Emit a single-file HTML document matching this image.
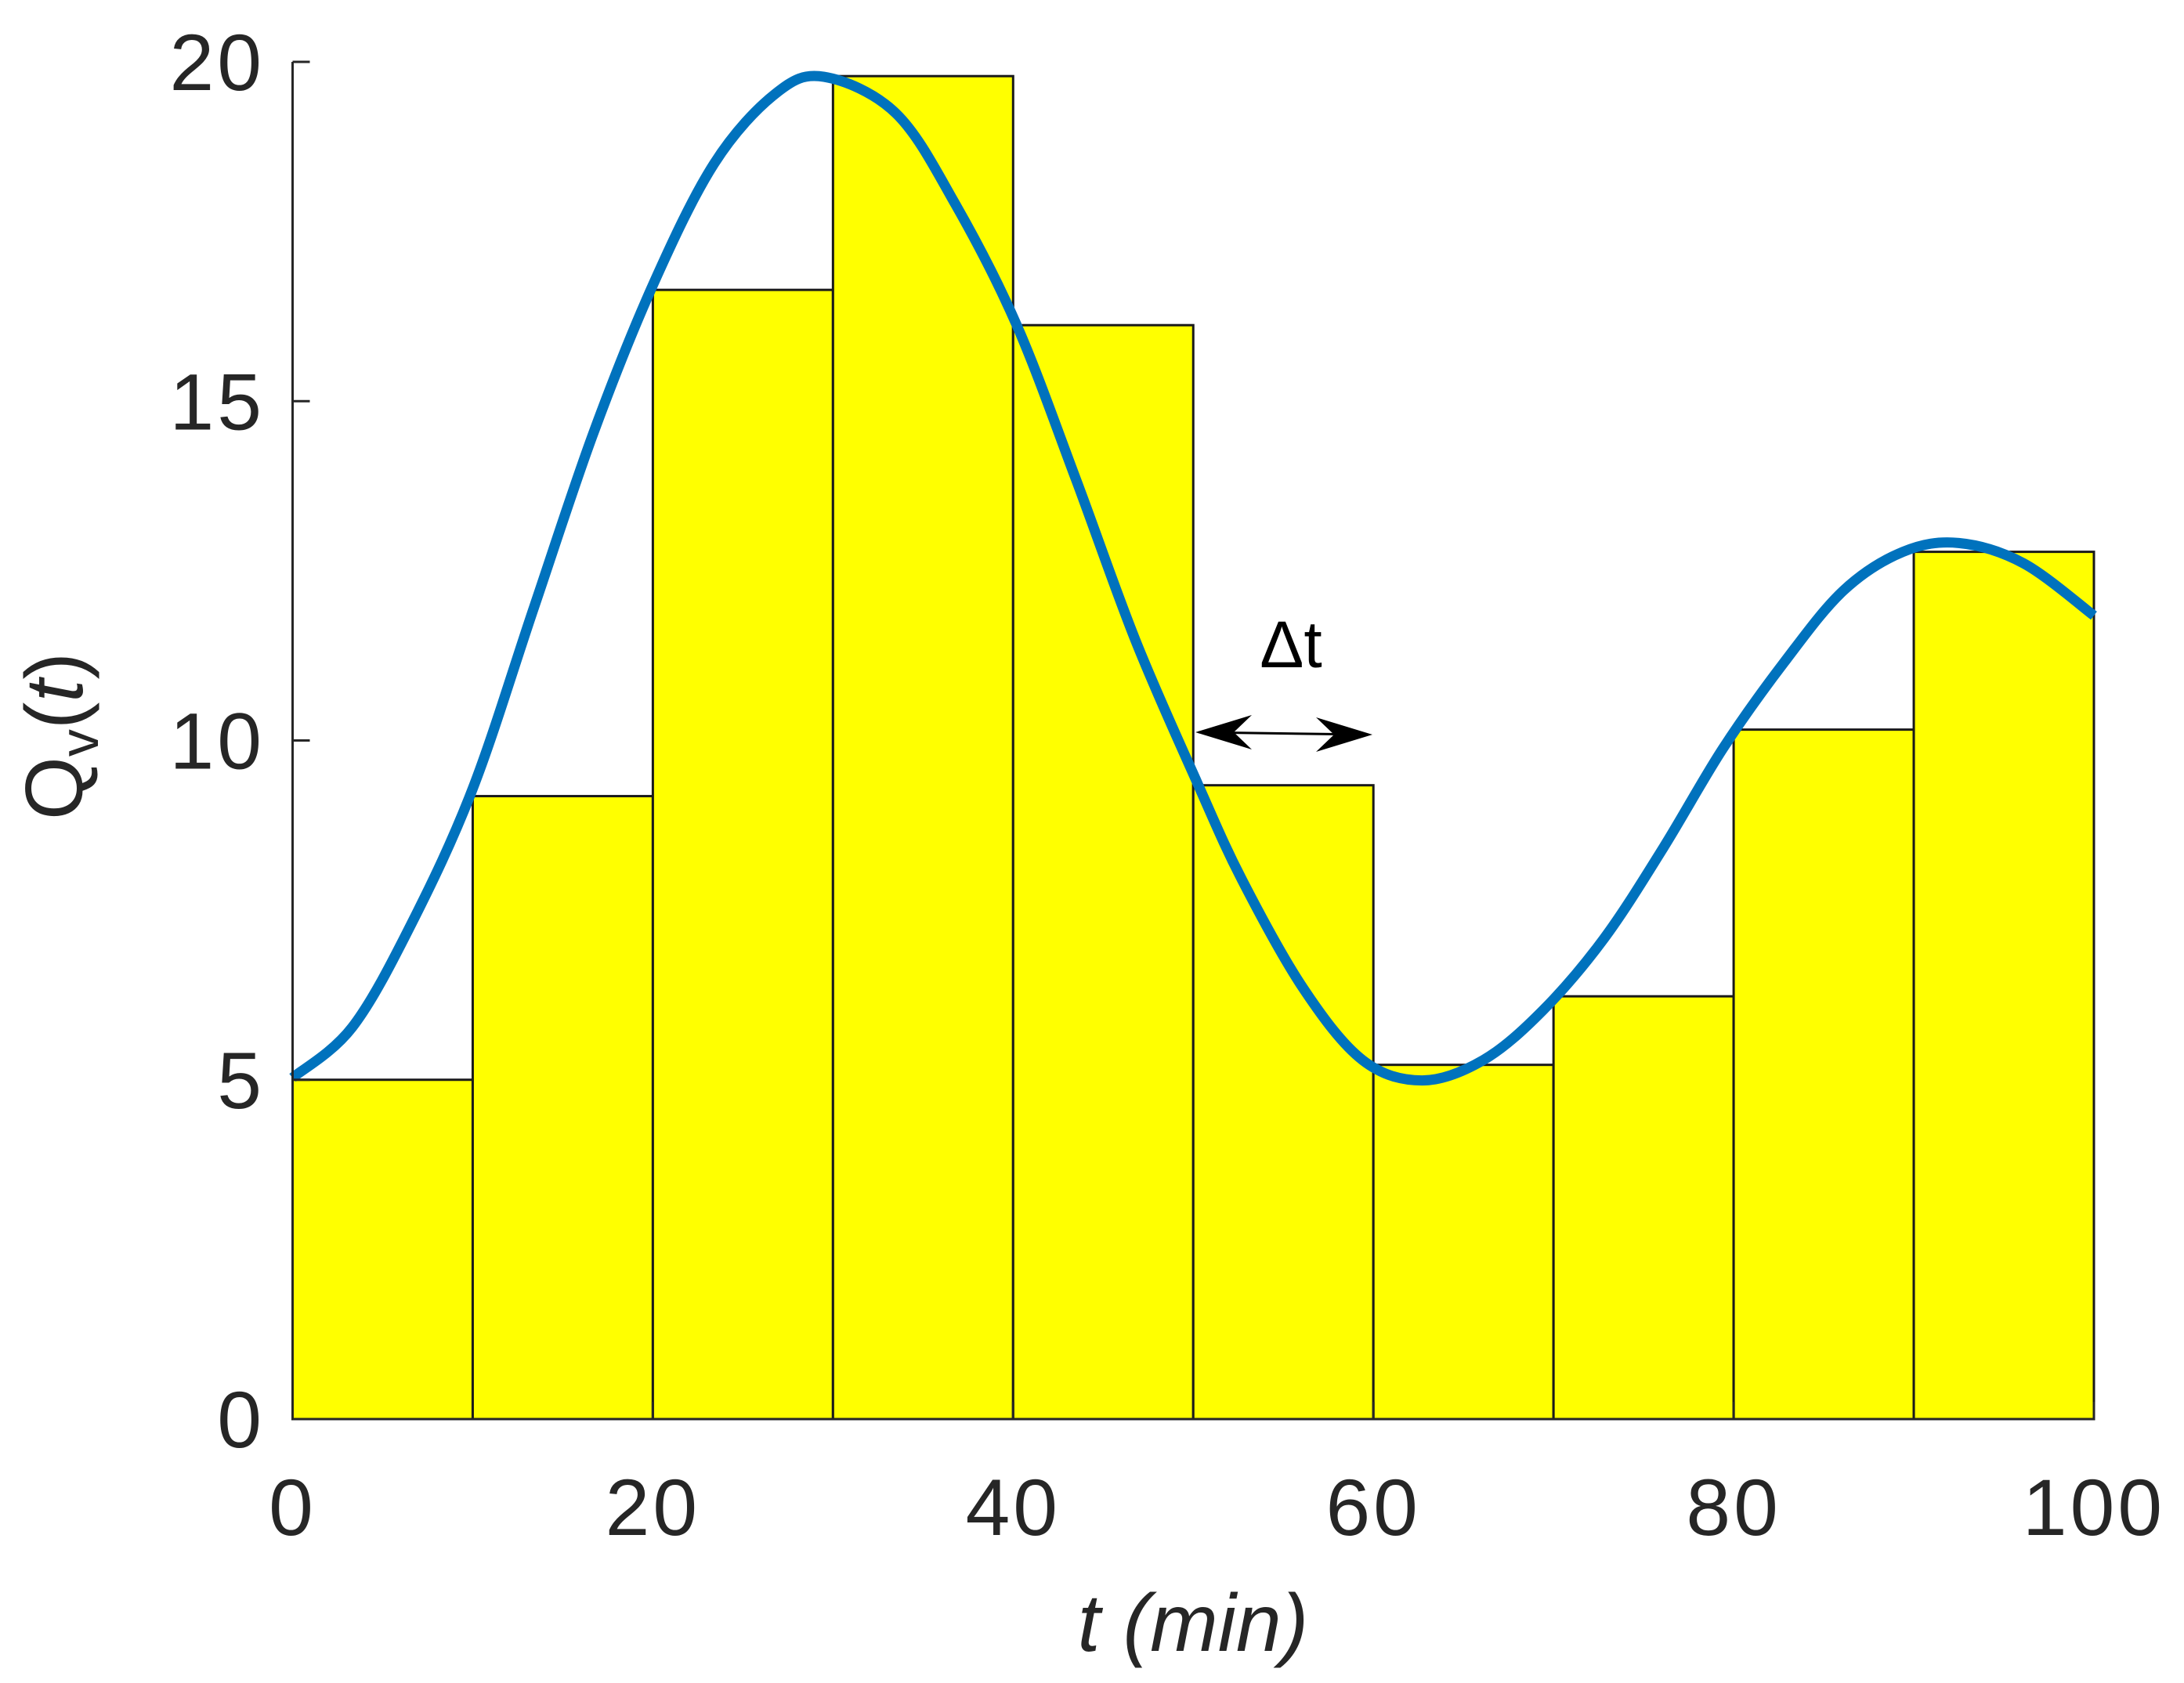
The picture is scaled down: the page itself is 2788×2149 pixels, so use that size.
<!DOCTYPE html>
<html><head><meta charset="utf-8"><style>
html,body{margin:0;padding:0;background:#fff;}
svg{display:block;font-family:"Liberation Sans",sans-serif;}
</style></head><body>
<svg id="chart" width="2788" height="2149" viewBox="0 0 2788 2149" xmlns="http://www.w3.org/2000/svg">
<g id="bars"></g>
<g id="curve"></g>
<g id="axes"></g>
<text x="1648" y="852" font-size="84" text-anchor="middle" fill="#000">Δt</text>
<g stroke="#000" stroke-width="3" fill="#000">
<line x1="1530" y1="935" x2="1745" y2="938"/>
<path d="M1526,935 L1598,913 L1575,935 L1598,957 Z" stroke="none"/>
<path d="M1752,938 L1680,916 L1703,938 L1680,960 Z" stroke="none"/>
</g>
<text x="1523" y="2108" font-size="104" font-style="italic" text-anchor="middle" fill="#262626">t (min)</text>
<text transform="translate(105,940) rotate(-90)" font-size="104" text-anchor="middle" fill="#262626">Q<tspan font-size="70" dy="20">v</tspan><tspan dy="-20">(</tspan><tspan font-style="italic">t</tspan>)</text>
</svg>
<script>
const categories = [0,10,20,30,40,50,60,70,80,90];
const barValues = [5.0,9.18,16.64,19.79,16.12,9.34,5.22,6.23,10.16,12.78];
const curveT = [0,3.3,6.6,10,13.4,16.7,20,23.4,26.8,29.5,33.5,36.8,40.2,43.5,46.8,50.2,52.7,56.1,59.4,62.7,66.1,69.4,72.8,76.1,79.4,82.8,86.1,89.4,92.5,96.1,100];
const curveQ = [5.03,5.77,7.3,9.29,11.96,14.53,16.71,18.5,19.53,19.78,19.24,17.9,16.12,13.84,11.47,9.39,7.95,6.35,5.29,4.99,5.29,6.02,7.08,8.42,9.88,11.15,12.21,12.78,12.91,12.61,11.84];
const xTicks = [0,20,40,60,80,100];
const yTicks = [0,5,10,15,20];
const binWidth = 10;

const X0=373.5, X1=2673, Y0=1812, Y1=79;
const xs = t => X0 + (t/100)*(X1-X0);
const ys = v => Y0 - (v/20)*(Y0-Y1);
const NS="http://www.w3.org/2000/svg";
function mk(tag, parent, attrs){const e=document.createElementNS(NS,tag);for(const k in attrs)e.setAttribute(k,attrs[k]);parent.appendChild(e);return e;}

const bars=document.getElementById('bars');
categories.forEach((c,i)=>{
  const r=mk('rect',bars,{x:xs(c),y:ys(barValues[i]),width:xs(c+binWidth)-xs(c),height:ys(0)-ys(barValues[i]),fill:'#ffff00',stroke:'#1a1a1a','stroke-width':3});
  
  
});

const pts=curveT.map((t,i)=>[xs(t),ys(curveQ[i])]);
let d='M'+pts[0][0]+','+pts[0][1];
for(let i=0;i<pts.length-1;i++){
  const p0=pts[Math.max(0,i-1)],p1=pts[i],p2=pts[i+1],p3=pts[Math.min(pts.length-1,i+2)];
  const c1=[p1[0]+(p2[0]-p0[0])/6,p1[1]+(p2[1]-p0[1])/6];
  const c2=[p2[0]-(p3[0]-p1[0])/6,p2[1]-(p3[1]-p1[1])/6];
  d+=` C${c1[0]},${c1[1]} ${c2[0]},${c2[1]} ${p2[0]},${p2[1]}`;
}
const curve=mk('path',document.getElementById('curve'),{d:d,fill:'none',stroke:'#0072BD','stroke-width':13,'stroke-linejoin':'round'});



const axes=document.getElementById('axes');
const xl=mk('line',axes,{x1:X0,y1:Y0,x2:X1,y2:Y0,stroke:'#262626','stroke-width':3});


const yl=mk('line',axes,{x1:X0,y1:Y0,x2:X0,y2:Y1,stroke:'#262626','stroke-width':3});


xTicks.forEach(t=>{
  const l=mk('line',axes,{x1:xs(t),y1:Y0,x2:xs(t),y2:Y0-22,stroke:'#262626','stroke-width':3});
  
  
  const tx=mk('text',axes,{x:xs(t),y:1960,'font-size':102,'text-anchor':'middle',fill:'#262626','letter-spacing':4});
  tx.textContent=t;
  
  
});
yTicks.forEach(v=>{
  const l=mk('line',axes,{x1:X0,y1:ys(v),x2:X0+22,y2:ys(v),stroke:'#262626','stroke-width':3});
  
  
  const tx=mk('text',axes,{x:338,y:ys(v)+36,'font-size':102,'text-anchor':'end',fill:'#262626','letter-spacing':4});
  tx.textContent=v;
  
  
});
</script>
</body></html>
